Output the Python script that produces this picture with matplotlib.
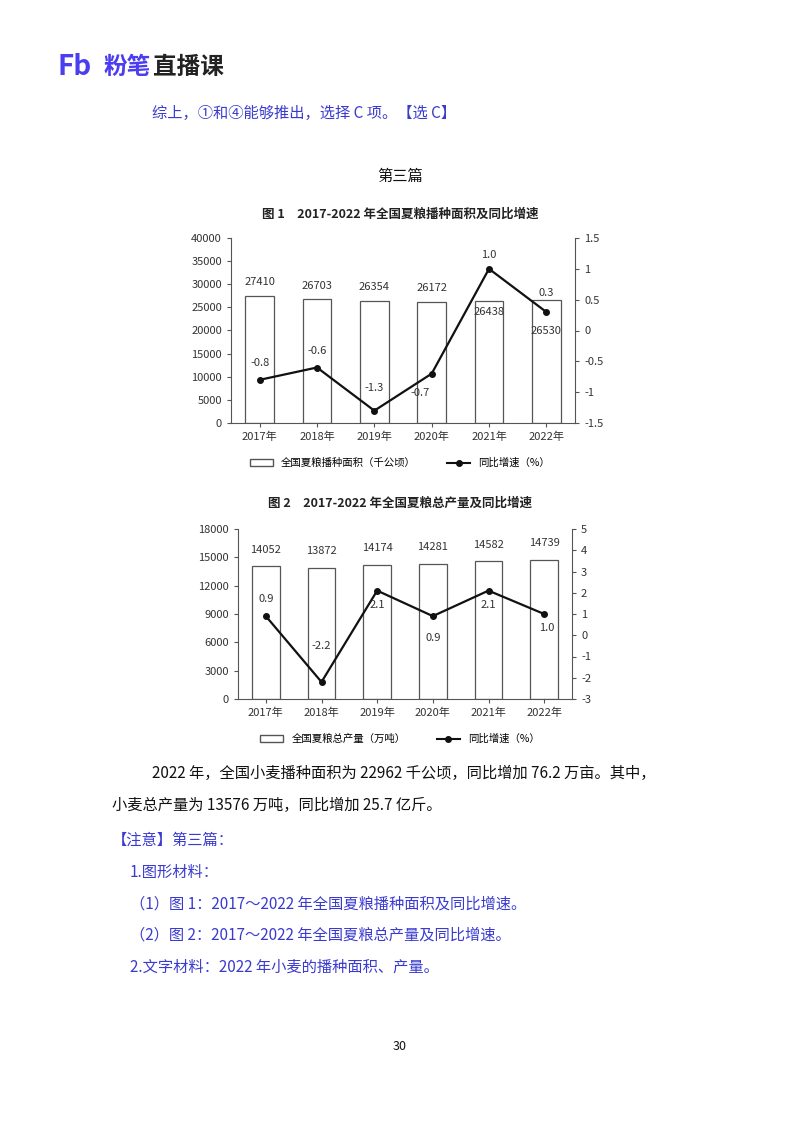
import matplotlib.pyplot as plt
from matplotlib.patches import Patch
from matplotlib.lines import Line2D

plt.rcParams['font.family'] = ['Noto Sans CJK SC', 'DejaVu Sans']

years = ["2017年", "2018年", "2019年", "2020年", "2021年", "2022年"]
area = [27410, 26703, 26354, 26172, 26438, 26530]
area_growth = [-0.8, -0.6, -1.3, -0.7, 1.0, 0.3]
output = [14052, 13872, 14174, 14281, 14582, 14739]
output_growth = [0.9, -2.2, 2.1, 0.9, 2.1, 1.0]

W, H = 800, 1132
fig = plt.figure(figsize=(W / 100, H / 100), dpi=100)
blue = "#3a3ad0"
gray = "#555555"


def ax_at(x0, y0, x1, y1):
    return fig.add_axes([x0 / W, 1 - y1 / H, (x1 - x0) / W, (y1 - y0) / H])


def txt(x, y, s, **kw):
    fig.text(x / W, 1 - y / H, s, va="center", **kw)


# header
fig.text(58 / W, 1 - 67 / H, "Fb", fontsize=20, fontweight="bold", color="#4b3df0", va="center")
fig.text(103 / W, 1 - 67 / H, "粉笔", fontsize=17, fontweight="bold", color="#4b3df0", va="center")
fig.text(153 / W, 1 - 67 / H, "直播课", fontsize=17, fontweight="bold", color="#222222", va="center")
txt(152, 113, "综上，①和④能够推出，选择 C 项。【选 C】", fontsize=11, color=blue)
txt(400, 176, "第三篇", fontsize=11, ha="center", color="#111111")


def draw(ax, vals, growth, ymax, ystep, rlim, rstep, bar_off, line_off, title, title_y, legend_label, legend_y):
    x = range(len(years))
    ax.bar(x, vals, width=0.5, color="white", edgecolor=gray, linewidth=0.9)
    ax.set_xlim(-0.5, len(years) - 0.5)
    ax.set_ylim(0, ymax)
    ax.set_yticks(range(0, ymax + 1, ystep))
    ax.set_xticks(list(x))
    ax.set_xticklabels(years)
    for s in ["top", "right"]:
        ax.spines[s].set_visible(False)
    ax.spines["left"].set_color(gray)
    ax.spines["bottom"].set_color(gray)
    ax.tick_params(labelsize=8, colors="#333333", length=3, color=gray)
    for i, v in enumerate(vals):
        ax.annotate(str(v), (i, v), xytext=(0, bar_off[i]), textcoords="offset points",
                    ha="center", va="center", fontsize=8, color="#333333")
    ax2 = ax.twinx()
    ax2.plot(list(x), growth, color="#111111", marker="o", markersize=4, linewidth=1.6)
    ax2.set_ylim(*rlim)
    ticks = []
    t = rlim[0]
    while t <= rlim[1] + 1e-9:
        ticks.append(round(t, 1))
        t += rstep
    ax2.set_yticks(ticks)
    ax2.set_yticklabels([("%g" % v) for v in ticks])
    for s in ["top", "left", "bottom"]:
        ax2.spines[s].set_visible(False)
    ax2.spines["right"].set_color(gray)
    ax2.tick_params(labelsize=8, colors="#333333", length=3, color=gray)
    for i, v in enumerate(growth):
        dx, dy = line_off[i]
        ax2.annotate("%.1f" % v, (i, v), xytext=(dx, dy), textcoords="offset points",
                     ha="center", va="center", fontsize=8, color="#333333")
    txt(400, title_y, title, fontsize=9, ha="center", fontweight="bold", color="#222222")
    handles = [Patch(facecolor="white", edgecolor=gray, label=legend_label),
               Line2D([0], [0], color="#111111", marker="o", markersize=4, label="同比增速（%）")]
    fig.legend(handles=handles, loc="center", bbox_to_anchor=(400 / W, 1 - legend_y / H),
               ncol=2, frameon=False, fontsize=7.5, handlelength=2.2, columnspacing=3)


ax1 = ax_at(231, 238, 575, 423)
draw(ax1, area, area_growth, 40000, 5000, (-1.5, 1.5), 0.5,
     [10, 10, 10, 10, -8, -22],
     [(0, 12), (0, 12), (0, 16), (-8, -14), (0, 10), (0, 14)],
     "图 1　2017-2022 年全国夏粮播种面积及同比增速", 214, "全国夏粮播种面积（千公顷）", 463)

ax2 = ax_at(238, 529, 572, 699)
draw(ax2, output, output_growth, 18000, 3000, (-3, 5), 1,
     [12, 12, 12, 12, 12, 12],
     [(0, 12), (0, 26), (0, -10), (0, -16), (0, -10), (2, -10)],
     "图 2　2017-2022 年全国夏粮总产量及同比增速", 503, "全国夏粮总产量（万吨）", 739)

# body text
txt(152, 773, "2022 年，全国小麦播种面积为 22962 千公顷，同比增加 76.2 万亩。其中，", fontsize=11, color="#111111")
txt(112, 805, "小麦总产量为 13576 万吨，同比增加 25.7 亿斤。", fontsize=11, color="#111111")
txt(112, 840, "【注意】第三篇：", fontsize=11, color=blue)
txt(130, 872, "1.图形材料：", fontsize=11, color=blue)
txt(130, 904, "（1）图 1：2017～2022 年全国夏粮播种面积及同比增速。", fontsize=11, color=blue)
txt(130, 935, "（2）图 2：2017～2022 年全国夏粮总产量及同比增速。", fontsize=11, color=blue)
txt(130, 967, "2.文字材料：2022 年小麦的播种面积、产量。", fontsize=11, color=blue)
txt(400, 1046, "30", fontsize=9, ha="center", color="#111111")

fig.savefig("out.png", dpi=100)
